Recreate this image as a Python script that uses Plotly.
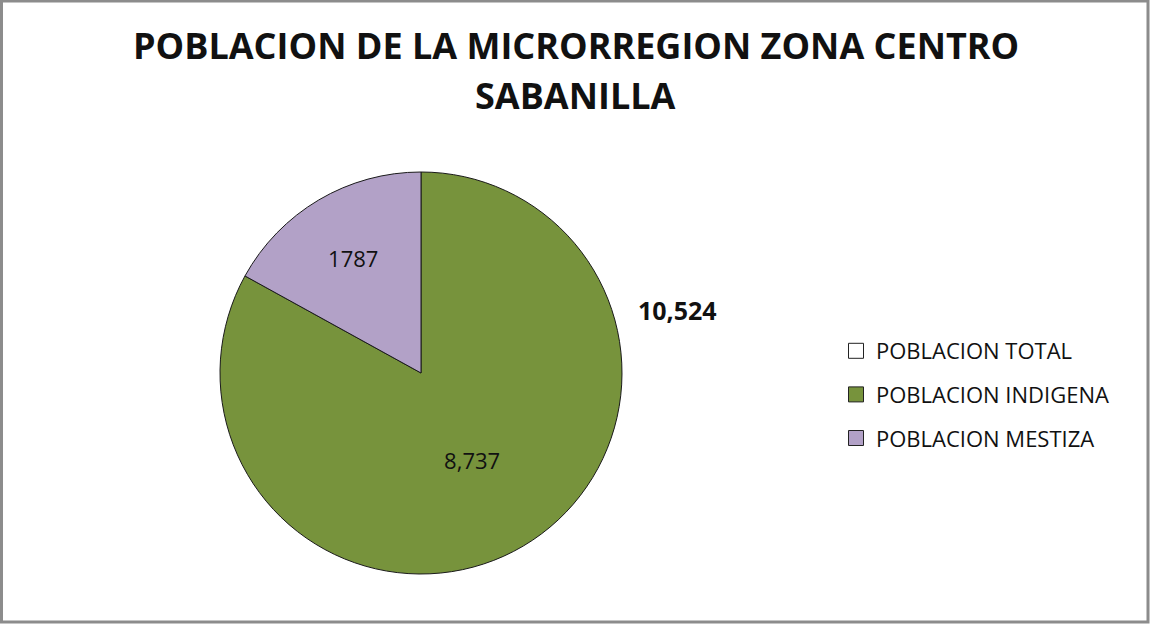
import plotly.graph_objects as go

# ---- data ----
title_lines = ["POBLACION DE LA MICRORREGION ZONA CENTRO", "SABANILLA"]
categories = ["POBLACION TOTAL", "POBLACION INDIGENA", "POBLACION MESTIZA"]
total_value = 10524
pie_labels = ["POBLACION INDIGENA", "POBLACION MESTIZA"]
pie_values = [8737, 1787]
pie_text = ["8,737", "1787"]
colors = {"POBLACION TOTAL": "#FFFFFF", "POBLACION INDIGENA": "#77933C", "POBLACION MESTIZA": "#B2A1C7"}

W, H = 1151, 626
FONT = "Open Sans, Liberation Sans, sans-serif"

fig = go.Figure()

cx, cy, r = 421, 373, 201
fig.add_trace(go.Pie(
    labels=pie_labels,
    values=pie_values,
    text=pie_text,
    texttemplate="%{text}",
    textposition="inside",
    insidetextorientation="horizontal",
    sort=False,
    direction="clockwise",
    rotation=0,
    marker=dict(colors=[colors[l] for l in pie_labels], line=dict(color="#1a1a1a", width=1)),
    textfont=dict(family=FONT, size=22, color="#111111"),
    domain=dict(x=[(cx - r) / W, (cx + r) / W], y=[(H - cy - r) / H, (H - cy + r) / H]),
    showlegend=False,
    hoverinfo="label+value",
))

# legend entries
for i, c in enumerate(categories):
    fig.add_trace(go.Scatter(
        x=[None], y=[None], mode="markers", name=c,
        legendgroup=f"g{i}",
        marker=dict(symbol="square", size=15, color=colors[c], line=dict(color="#222222", width=1)),
    ))

fig.add_annotation(
    x=678 / W, y=(H - 310) / H, xref="paper", yref="paper",
    xanchor="center", yanchor="middle",
    text=f"<b>{total_value:,}</b>", showarrow=False,
    font=dict(family=FONT, size=25, color="#111111"),
)

for i, line in enumerate(title_lines):
    fig.add_annotation(
        x=0.5, y=(H - (46 + 49 * i)) / H, xref="paper", yref="paper",
        xanchor="center", yanchor="middle",
        text=f"<b>{line}</b>", showarrow=False,
        font=dict(family=FONT, size=36, color="#111111"),
    )

fig.add_shape(type="rect", xref="paper", yref="paper",
              x0=1.5 / W, x1=1148 / W, y0=(H - 622) / H, y1=(H - 1) / H,
              line=dict(color="#8c8c8c", width=3), fillcolor="rgba(0,0,0,0)", layer="above")

fig.update_layout(
    width=W, height=H,
    margin=dict(l=0, r=0, t=0, b=0),
    paper_bgcolor="white", plot_bgcolor="white",
    xaxis=dict(visible=False), yaxis=dict(visible=False),
    legend=dict(x=836 / W, y=(H - 330) / H, xanchor="left", yanchor="top",
                font=dict(family=FONT, size=22, color="#111111"),
                tracegroupgap=12, bgcolor="rgba(0,0,0,0)"),
)

fig.write_html("out.html",
               config={"displayModeBar": False},
               post_script="document.body.style.margin='0';document.body.style.overflow='hidden';")
